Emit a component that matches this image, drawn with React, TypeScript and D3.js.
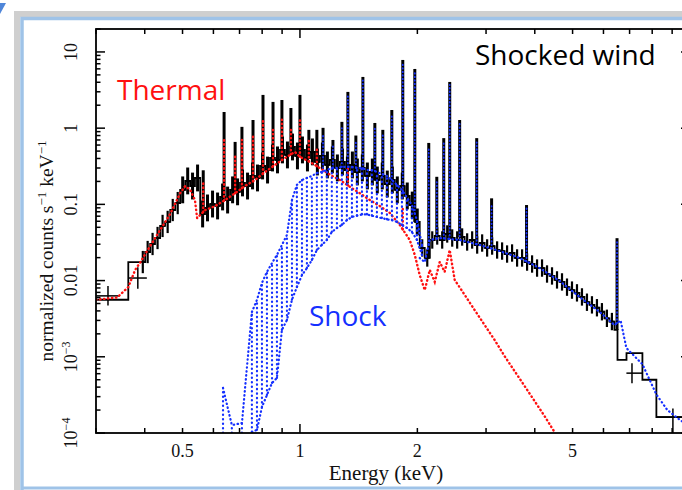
import React from 'react';
import * as d3 from 'd3';

const W = 682;
const H = 490;

// ---- Observed spectrum (bin low edges in keV, normalized counts s^-1 keV^-1)
const binLowE = [0.300, 0.363,
  0.390, 0.401, 0.413, 0.425, 0.438, 0.451, 0.465, 0.479, 0.493, 0.508, 0.523, 0.538,
  0.555, 0.571, 0.588, 0.606, 0.624, 0.643, 0.662, 0.682, 0.702, 0.723, 0.745, 0.767, 0.790, 0.814, 0.838, 0.863, 0.889, 0.915, 0.943, 0.971,
  1.000, 1.030, 1.061, 1.092, 1.125, 1.159, 1.193, 1.229, 1.266, 1.304, 1.343, 1.383, 1.424, 1.467, 1.511, 1.556, 1.602, 1.650, 1.700, 1.751,
  1.803, 1.857, 1.912, 1.970, 2.028, 2.089, 2.152, 2.216, 2.282, 2.350, 2.421, 2.493, 2.567, 2.644, 2.723, 2.805, 2.889, 2.975, 3.064, 3.156,
  3.250, 3.347, 3.447, 3.550, 3.657, 3.766, 3.879, 3.995, 4.114, 4.237, 4.364, 4.494, 4.629, 4.767, 4.910, 5.056, 5.208, 5.363, 5.524, 5.689,
  5.859, 6.034, 6.214, 6.400,
  6.518, 6.874, 7.551, 8.200];
const binTopE = 10.0;
const counts = [0.0056, 0.0175,
  0.0175, 0.0237, 0.0302, 0.0362, 0.0521, 0.0588, 0.0843, 0.104, 0.155, 0.203, 0.174, 0.222,
  0.0748, 0.0898, 0.101, 0.0953, 0.125, 0.114, 0.155, 0.146, 0.191, 0.174, 0.236, 0.222, 0.319, 0.282, 0.406, 0.383, 0.518, 0.445, 0.566, 0.432,
  0.518, 0.406, 0.488, 0.360, 0.432, 0.329, 0.383, 0.301, 0.360, 0.282, 0.329, 0.266, 0.301, 0.236, 0.266, 0.209, 0.236, 0.185, 0.209, 0.155,
  0.174, 0.129, 0.098, 0.0588, 0.0268, 0.0198, 0.0341, 0.0385, 0.0341, 0.0409, 0.0362, 0.0341, 0.0373, 0.0321, 0.0341, 0.0293, 0.0311, 0.0268, 0.0284, 0.0252,
  0.0244, 0.0223, 0.0230, 0.0198, 0.0198, 0.0175, 0.0165, 0.0146, 0.0146, 0.0122, 0.0115, 0.0102, 0.0096, 0.0082, 0.0075, 0.0069, 0.0061, 0.0052, 0.0048, 0.0044,
  0.0039, 0.0032, 0.0029, 0.00225,
  0.00091, 0.00112, 0.00050, 0.000162];
// relative error factor per energy band
const errUpTo = [0.39, 0.5, 2.05, 6.45, 10.01];
const errFactor = [1.0, 1.4, 1.5, 1.3, 1.0];

// separate data crosses
const crossE = [0.322, 0.384, 7.10, 9.04];
const crossELo = [0.300, 0.363, 6.87, 8.20];
const crossEHi = [0.345, 0.405, 7.55, 10.0];
const crossV = [0.0063, 0.0108, 0.00061, 0.000162];
const crossVLo = [0.0047, 0.0078, 0.00045, 0.0001];
const crossVHi = [0.0085, 0.0150, 0.00082, 0.00021];

// emission line peaks in the data
const lineE = [0.565, 0.639, 0.682, 0.710, 0.758, 0.804, 0.853, 0.899, 0.948, 1.000, 1.054, 1.105, 1.146, 1.215, 1.281, 1.327, 1.391, 1.450,
  1.556, 1.631, 1.720, 1.835, 1.970, 2.139, 2.243, 2.337, 2.421, 2.567, 2.839, 3.10, 3.81, 6.50];
const linePeak = [0.28, 1.63, 0.66, 1.04, 1.28, 2.73, 2.21, 2.34, 1.84, 2.73, 0.95, 0.95, 1.01, 0.70, 1.21, 2.99, 0.80, 4.70,
  1.17, 0.95, 1.73, 7.85, 5.98, 0.64, 0.23, 0.74, 4.04, 1.28, 0.74, 0.12, 0.098, 0.036];

// ---- Thermal model (red)
const thermalE = [0.300, 0.340, 0.363, 0.378, 0.390, 0.413, 0.438, 0.465, 0.493, 0.508, 0.523, 0.538, 0.545, 0.571, 0.606, 0.643, 0.682, 0.723,
  0.767, 0.814, 0.863, 0.915, 0.971, 1.000, 1.061, 1.125, 1.193, 1.266, 1.343, 1.424, 1.511, 1.602, 1.700, 1.803, 1.912, 1.970, 2.028, 2.089,
  2.152, 2.216, 2.282, 2.350, 2.421, 2.493, 2.644, 2.805, 2.975, 3.156, 3.347, 3.550, 3.766, 3.995, 4.237, 4.494];
const thermalV = [0.0056, 0.0060, 0.0082, 0.0138, 0.0175, 0.0284, 0.046, 0.075, 0.14, 0.174, 0.155, 0.114, 0.066, 0.084, 0.095, 0.114, 0.14, 0.174,
  0.209, 0.266, 0.329, 0.406, 0.488, 0.42, 0.36, 0.30, 0.245, 0.209, 0.17, 0.14, 0.114, 0.095, 0.077, 0.0537, 0.0341, 0.0217, 0.0118, 0.0075,
  0.0138, 0.0096, 0.0175, 0.0130, 0.0252, 0.0102, 0.0065, 0.0041, 0.00261, 0.00166, 0.00102, 0.00065, 0.000414, 0.000263, 0.000167, 0.000103];
const thermalLineE = [0.565, 0.639, 0.682, 0.710, 0.758, 0.804, 0.853, 0.899, 0.948, 1.000, 1.054, 1.105, 1.327, 1.835];
const thermalLinePeak = [0.2, 0.7, 0.45, 0.7, 0.77, 1.28, 1.04, 1.36, 1.04, 1.4, 0.7, 0.52, 0.3, 0.09];

// ---- Shock model (blue): Fe-L fan (low/high envelope per energy) and tail
const shockFanE = [0.635, 0.669, 0.710, 0.753, 0.776, 0.799, 0.823, 0.848, 0.873, 0.899, 0.926, 0.954, 0.982, 1.012, 1.042, 1.073, 1.105, 1.138,
  1.172, 1.207, 1.244, 1.281, 1.319, 1.359, 1.400, 1.442, 1.485, 1.529, 1.575, 1.622, 1.671, 1.721, 1.773, 1.826, 1.880, 1.937, 1.995, 2.055];
const shockFanLo = [0.0001, 0.0001, 0.0001, 0.000103, 0.00011, 0.000219, 0.000315, 0.000453, 0.000527, 0.00225, 0.00304, 0.0056, 0.0082, 0.0118,
  0.0146, 0.0186, 0.0252, 0.0293, 0.0341, 0.0434, 0.049, 0.0537, 0.062, 0.0684, 0.071, 0.0737, 0.0737, 0.071, 0.0684, 0.066, 0.0636, 0.062,
  0.0588, 0.0537, 0.049, 0.0434, 0.0341, 0.0216];
const shockFanHi = [0.00039, 0.000127, 0.000135, 0.00387, 0.0056, 0.0093, 0.0130, 0.0170, 0.0217, 0.0293, 0.0397, 0.114, 0.180, 0.209, 0.222,
  0.236, 0.258, 0.266, 0.282, 0.301, 0.301, 0.31, 0.31, 0.31, 0.301, 0.301, 0.282, 0.282, 0.266, 0.25, 0.236, 0.209, 0.180, 0.155, 0.123,
  0.098, 0.0621, 0.0293];
const shockTailE = [2.028, 2.089, 2.152, 2.282, 2.567, 2.889, 3.250, 3.657, 4.114, 4.629, 5.208, 5.859, 6.214, 6.400, 6.640, 6.870, 7.550, 8.200, 8.750, 9.400, 10.0];
const shockTailV = [0.0198, 0.0175, 0.0341, 0.0362, 0.0341, 0.0293, 0.0244, 0.0198, 0.0146, 0.0099, 0.0061, 0.0039, 0.0030, 0.0026, 0.0030, 0.0013,
  0.0008, 0.00032, 0.0002, 0.00015, 0.00012];
const shockLineE = [1.146, 1.215, 1.281, 1.327, 1.391, 1.450, 1.556, 1.631, 1.720, 1.835, 1.970, 2.139, 2.243, 2.337, 2.421, 2.567, 2.839, 3.10, 3.81, 6.50];
const shockLinePeak = [0.8, 0.6, 1.0, 2.7, 0.7, 4.3, 1.0, 0.85, 1.5, 7.2, 5.5, 0.55, 0.2, 0.65, 3.7, 1.15, 0.65, 0.1, 0.09, 0.032];

// ---- Axes
const xTickLabels = [0.5, 1, 2, 5];
const yTickLabels = [1e-4, 1e-3, 0.01, 0.1, 1, 10];
const yTickText = ['10|−4', '10|−3', '0.01', '0.1', '1', '10'];

const RED = '#ff1010';
const BLUE = '#1530ff';

function interpLog(xs: number[], ys: number[], e: number): number {
  if (e <= xs[0]) return ys[0];
  if (e >= xs[xs.length - 1]) return ys[ys.length - 1];
  const i = d3.bisectRight(xs, e) - 1;
  const t = (Math.log(e) - Math.log(xs[i])) / (Math.log(xs[i + 1]) - Math.log(xs[i]));
  return Math.exp(Math.log(ys[i]) + t * (Math.log(ys[i + 1]) - Math.log(ys[i])));
}

export default function App() {
  const x = d3.scaleLog().domain([0.3, 10]).range([96, 690]);
  const y = d3.scaleLog().domain([1e-4, 20]).range([433, 29]);
  const L = 96, R = 690, T = 29, B = 433;

  const stepPts: [number, number][] = binLowE.map((e, i) => [x(e), y(counts[i])]);
  stepPts.push([x(binTopE), y(counts[counts.length - 1])]);
  const stepPath = d3.line().curve(d3.curveStepAfter)(stepPts) || '';

  const errBars = binLowE.map((e, i) => {
    const hi = i < binLowE.length - 1 ? binLowE[i + 1] : binTopE;
    const c = Math.sqrt(e * hi);
    const k = d3.bisectLeft(errUpTo, c);
    const f = errFactor[Math.min(k, errFactor.length - 1)];
    if (f <= 1.0) return null;
    const w = c > 0.5 && c < 2.05 ? 3 : 2.2;
    return (
      <g key={'eb' + i}>
        <line x1={x(c)} x2={x(c)} y1={y(counts[i] / f)} y2={y(counts[i] * f)} stroke="#000" strokeWidth={w} />
        <line x1={x(e)} x2={x(hi)} y1={y(counts[i])} y2={y(counts[i])} stroke="#000" strokeWidth={1.8} />
      </g>
    );
  });

  const dataBase = (e: number) => {
    const i = Math.max(0, d3.bisectRight(binLowE, e) - 1);
    return counts[i];
  };

  const thermalPath = d3.line()(thermalE.map((e, i) => [x(e), y(thermalV[i])])) || '';
  const fanHiPath = d3.line()(shockFanE.map((e, i) => [x(e), y(shockFanHi[i])])) || '';
  const fanLoPath = d3.line()(shockFanE.slice(3).map((e, i) => [x(e), y(shockFanLo[i + 3])])) || '';
  const tailPath = d3.line()(shockTailE.map((e, i) => [x(e), y(shockTailV[i])])) || '';

  const shockBase = (e: number) => e < 2.03 ? interpLog(shockFanE, shockFanHi, e) : interpLog(shockTailE, shockTailV, e);

  // ticks
  const xMinor: number[] = [];
  [0.1, 1].forEach(d => { for (let m = 1; m <= 9; m++) { const v = d * m; if (v >= 0.3 && v <= 10) xMinor.push(v); } });
  const yMinor: number[] = [];
  [1e-4, 1e-3, 1e-2, 1e-1, 1, 10].forEach(d => { for (let m = 2; m <= 9; m++) { const v = d * m; if (v <= 20) yMinor.push(v); } });

  const serif = '"Liberation Serif", "DejaVu Serif", serif';
  const sans = '"Open Sans", "Noto Sans", sans-serif';
  const dots = { strokeLinecap: 'round' as const };

  return (
    <svg width={W} height={H} style={{ position: 'absolute', left: 0, top: 0, background: '#fff' }}>
      <defs>
        <clipPath id="plotclip"><rect x={L} y={T} width={R - L} height={B - T} /></clipPath>
      </defs>
      <rect x={0} y={0} width={W} height={H} fill="#ffffff" />
      {/* frame */}
      <polygon points="0,3 6,3 0,14" fill="#4f86d9" />
      <path d={`M17,${H} L17,14 L${W},14`} fill="none" stroke="#cfcfcf" strokeWidth={6} />
      <path d={`M22,${H} L22,18.5 L${W},18.5`} fill="none" stroke="#9fc3e8" strokeWidth={3.5} />
      <line x1={22} x2={W} y1={488} y2={488} stroke="#9fc3e8" strokeWidth={3} />

      <g clipPath="url(#plotclip)">
        {/* data */}
        <path d={stepPath} fill="none" stroke="#000" strokeWidth={1.8} />
        {errBars}
        {lineE.map((e, i) => (
          <line key={'ln' + i} x1={x(e)} x2={x(e)} y1={y(dataBase(e))} y2={y(linePeak[i])} stroke="#000" strokeWidth={3} />
        ))}
        {crossE.map((e, i) => (
          <g key={'cr' + i} stroke="#000" strokeWidth={1.5}>
            <line x1={x(crossELo[i])} x2={x(crossEHi[i])} y1={y(crossV[i])} y2={y(crossV[i])} />
            <line x1={x(e)} x2={x(e)} y1={y(crossVLo[i])} y2={y(crossVHi[i])} />
          </g>
        ))}
        {/* thermal model */}
        <path d={thermalPath} fill="none" stroke={RED} strokeWidth={2.4} strokeDasharray="0.5 3.5" {...dots} />
        {thermalLineE.map((e, i) => (
          <line key={'tl' + i} x1={x(e)} x2={x(e)} y1={y(interpLog(thermalE, thermalV, e))} y2={y(thermalLinePeak[i])}
            stroke={RED} strokeWidth={2.4} strokeDasharray="0.5 3.5" {...dots} />
        ))}
        {/* shock model */}
        {shockFanE.map((e, i) => (
          <line key={'sf' + i} x1={x(e)} x2={x(e)} y1={y(shockFanLo[i])} y2={y(shockFanHi[i])}
            stroke={BLUE} strokeWidth={2.2} strokeDasharray="0.5 4" {...dots} />
        ))}
        <path d={fanHiPath} fill="none" stroke={BLUE} strokeWidth={2.2} strokeDasharray="0.5 3.5" {...dots} />
        <path d={fanLoPath} fill="none" stroke={BLUE} strokeWidth={2.2} strokeDasharray="0.5 3.5" {...dots} />
        <path d={tailPath} fill="none" stroke={BLUE} strokeWidth={2.2} strokeDasharray="0.5 3.5" {...dots} />
        {shockLineE.map((e, i) => (
          <line key={'sl' + i} x1={x(e)} x2={x(e)} y1={y(shockBase(e))} y2={y(shockLinePeak[i])}
            stroke={BLUE} strokeWidth={1.8} strokeDasharray="0.5 3" {...dots} />
        ))}
      </g>

      {/* axes box */}
      <rect x={L} y={T} width={R - L} height={B - T} fill="none" stroke="#000" strokeWidth={1.8} />
      <g stroke="#000" strokeWidth={1.5}>
        {xMinor.map((v, i) => {
          const len = Math.abs(v - 1) < 1e-9 ? 9 : 5;
          return (
            <g key={'xt' + i}>
              <line x1={x(v)} x2={x(v)} y1={B} y2={B - len} />
              <line x1={x(v)} x2={x(v)} y1={T} y2={T + len} />
            </g>
          );
        })}
        {yTickLabels.map((v, i) => (
          <g key={'ytM' + i}>
            <line x1={L} x2={L + 9} y1={y(v)} y2={y(v)} />
            <line x1={R} x2={R - 9} y1={y(v)} y2={y(v)} />
          </g>
        ))}
        {yMinor.map((v, i) => (
          <g key={'ytm' + i}>
            <line x1={L} x2={L + 4.5} y1={y(v)} y2={y(v)} />
            <line x1={R} x2={R - 4.5} y1={y(v)} y2={y(v)} />
          </g>
        ))}
      </g>

      {/* tick labels */}
      <g fontFamily={serif} fontSize={18} fill="#111">
        {xTickLabels.map((v, i) => (
          <text key={'xl' + i} x={x(v)} y={457} textAnchor="middle">{String(v)}</text>
        ))}
        {yTickLabels.map((v, i) => {
          const parts = yTickText[i].split('|');
          return (
            <text key={'yl' + i} transform={`translate(77,${y(v)}) rotate(-90)`} textAnchor="middle">
              {parts[0]}
              {parts[1] ? <tspan fontSize={12} dy={-7}>{parts[1]}</tspan> : null}
            </text>
          );
        })}
      </g>
      <text x={386} y={480} textAnchor="middle" fontFamily={serif} fontSize={21} fill="#111">Energy (keV)</text>
      <text transform="translate(53,251) rotate(-90)" textAnchor="middle" fontFamily={serif} fontSize={19.5} fill="#111">
        normalized counts s<tspan fontSize={13} dy={-7}>−1</tspan><tspan dy={7}> keV</tspan><tspan fontSize={13} dy={-7}>−1</tspan>
      </text>

      {/* annotations */}
      <text x={117} y={100} fontFamily={sans} fontSize={28} fill={RED}>Thermal</text>
      <text x={309} y={326} fontFamily={sans} fontSize={28} fill={BLUE}>Shock</text>
      <text x={475} y={65} fontFamily={sans} fontSize={28} fill="#000">Shocked wind</text>
    </svg>
  );
}
